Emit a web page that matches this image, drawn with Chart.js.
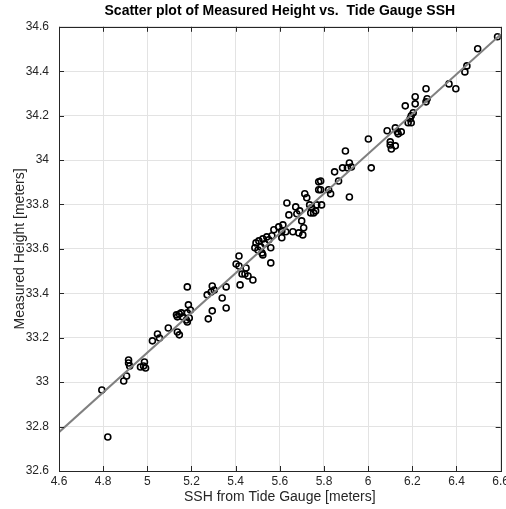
<!DOCTYPE html>
<html>
<head>
<meta charset="utf-8">
<script src="https://cdn.jsdelivr.net/npm/chart.js@4/dist/chart.umd.min.js"></script>
<style>
  html, body { margin: 0; padding: 0; background: #fff; overflow: hidden; }
  #wrap { width: 512px; height: 509px; }
</style>
</head>
<body>
<div id="wrap"><canvas id="scatterChart"></canvas></div>
<script>
'use strict';

// tide gauge SSH (x) and measured height (y)
var sshX = [
    4.794, 4.821, 4.893, 4.906, 4.915, 4.915, 4.920, 4.969, 4.983, 4.987,
    4.992, 5.023, 5.046, 5.055, 5.095, 5.136, 5.145, 5.136, 5.145, 5.159,
    5.181, 5.186, 5.195, 5.181, 5.181, 5.132, 5.190, 5.177, 5.276, 5.294,
    5.271, 5.289, 5.294, 5.303, 5.339, 5.357, 5.357, 5.420, 5.402, 5.415,
    5.415, 5.429, 5.442, 5.447, 5.456, 5.478, 5.492, 5.514, 5.523, 5.505,
    5.523, 5.541, 5.550, 5.564, 5.559, 5.573, 5.595, 5.614, 5.609, 5.627,
    5.659, 5.686, 5.704, 5.708, 5.699, 5.632, 5.641, 5.672, 5.677, 5.690,
    5.713, 5.722, 5.735, 5.744, 5.740, 5.753, 5.762, 5.767, 5.789, 5.776,
    5.776, 5.830, 5.821, 6.001, 6.014, 5.897, 5.915, 5.884, 5.906, 5.924,
    5.848, 5.866, 5.915, 6.086, 6.123, 6.132, 6.100, 6.105, 6.123, 6.100,
    6.150, 6.136, 6.168, 6.190, 6.195, 6.181, 6.204, 6.195, 6.213, 6.213,
    6.262, 6.267, 6.262, 6.366, 6.397, 6.438, 6.447, 6.496, 6.586, 5.785,
    5.785, 5.501, 5.519, 5.154, 5.487, 5.532, 5.559, 5.609
];
var heightY = [
    32.965, 32.753, 33.005, 33.028, 33.100, 33.086, 33.073, 33.068, 33.073, 33.091,
    33.064, 33.186, 33.217, 33.199, 33.244, 33.294, 33.307, 33.226, 33.213, 33.294,
    33.271, 33.348, 33.325, 33.312, 33.429, 33.303, 33.289, 33.280, 33.285, 33.321,
    33.393, 33.406, 33.433, 33.415, 33.379, 33.334, 33.429, 33.438, 33.532, 33.568,
    33.523, 33.487, 33.487, 33.514, 33.478, 33.460, 33.627, 33.609, 33.573, 33.636,
    33.645, 33.654, 33.641, 33.659, 33.605, 33.686, 33.699, 33.708, 33.681, 33.677,
    33.677, 33.672, 33.663, 33.695, 33.726, 33.807, 33.753, 33.789, 33.758, 33.771,
    33.848, 33.830, 33.798, 33.785, 33.762, 33.762, 33.771, 33.798, 33.798, 33.866,
    33.902, 33.848, 33.866, 34.095, 33.965, 34.041, 33.987, 33.965, 33.965, 33.969,
    33.947, 33.906, 33.834, 34.132, 34.145, 34.127, 34.068, 34.050, 34.064, 34.082,
    34.127, 34.118, 34.244, 34.186, 34.168, 34.168, 34.213, 34.199, 34.285, 34.253,
    34.321, 34.276, 34.262, 34.343, 34.321, 34.397, 34.424, 34.501, 34.555, 33.906,
    33.866, 33.595, 33.582, 33.312, 33.605, 33.623, 33.537, 33.650
];

// fitted line, two ends
var fitX = [4.6, 6.6];
var fitY = [32.775, 34.565];

var xTicks = [4.6, 4.8, 5, 5.2, 5.4, 5.6, 5.8, 6, 6.2, 6.4, 6.6];
var xTickLabels = ['4.6', '4.8', '5', '5.2', '5.4', '5.6', '5.8', '6', '6.2', '6.4', '6.6'];
var yTicks = [32.6, 32.8, 33, 33.2, 33.4, 33.6, 33.8, 34, 34.2, 34.4, 34.6];
var yTickLabels = ['32.6', '32.8', '33', '33.2', '33.4', '33.6', '33.8', '34', '34.2', '34.4', '34.6'];

var points = sshX.map(function(x, i) { return { x: x, y: heightY[i] }; });
var fitLine = fitX.map(function(x, i) { return { x: x, y: fitY[i] }; });

var axisColor = '#262626';

// box round the plot and inward tick marks, like the original figure
var boxPlugin = {
    id: 'boxPlugin',
    afterDraw: function(chart) {
        var ctx = chart.ctx;
        var a = chart.chartArea;
        var len = 5;
        ctx.save();
        ctx.strokeStyle = axisColor;
        ctx.lineWidth = 1;
        ctx.beginPath();
        chart.scales.x.ticks.forEach(function(t) {
            var px = Math.round(chart.scales.x.getPixelForValue(t.value)) + 0.5;
            ctx.moveTo(px, a.bottom);
            ctx.lineTo(px, a.bottom - len);
            ctx.moveTo(px, a.top);
            ctx.lineTo(px, a.top + len);
        });
        chart.scales.y.ticks.forEach(function(t) {
            var py = Math.round(chart.scales.y.getPixelForValue(t.value)) + 0.5;
            ctx.moveTo(a.left, py);
            ctx.lineTo(a.left + len, py);
            ctx.moveTo(a.right, py);
            ctx.lineTo(a.right - len, py);
        });
        ctx.stroke();
        ctx.strokeRect(Math.round(a.left) + 0.5, Math.round(a.top) + 0.5,
            Math.round(a.right - a.left), Math.round(a.bottom - a.top));
        ctx.restore();
    }
};

var ctx = document.getElementById('scatterChart').getContext('2d');
var chart = new Chart(ctx, {
    type: 'scatter',
    data: {
        datasets: [{
            type: 'line',
            label: 'fit',
            data: fitLine,
            borderColor: '#808080',
            borderWidth: 2,
            pointRadius: 0,
            fill: false
        }, {
            label: 'measurements',
            data: points,
            pointStyle: 'circle',
            pointRadius: 3,
            borderColor: '#000',
            borderWidth: 1.6,
            backgroundColor: 'rgba(255,255,255,0)'
        }]
    },
    options: {
        responsive: true,
        maintainAspectRatio: false,
        animation: false,
        events: [],
        layout: { padding: 0 },
        plugins: {
            legend: { display: false },
            tooltip: { enabled: false },
            title: {
                display: true,
                text: 'Scatter plot of Measured Height vs.  Tide Gauge SSH',
                fullSize: false,
                color: '#000',
                font: { family: 'Liberation Sans, Arial, sans-serif', size: 14, weight: 'bold' },
                padding: { top: 3, bottom: 7 }
            }
        },
        scales: {
            x: {
                type: 'linear',
                min: 4.6,
                max: 6.6,
                afterBuildTicks: function(scale) {
                    scale.ticks = xTicks.map(function(v) { return { value: v }; });
                },
                afterFit: function(scale) { scale.height = 38; },
                ticks: {
                    color: axisColor,
                    padding: 3,
                    maxRotation: 0,
                    font: { family: 'Liberation Sans, Arial, sans-serif', size: 12 },
                    callback: function(v, i) { return xTickLabels[i]; }
                },
                grid: { color: '#e3e3e3', drawTicks: false },
                border: { display: false },
                title: {
                    display: true,
                    text: 'SSH from Tide Gauge [meters]',
                    color: axisColor,
                    font: { family: 'Liberation Sans, Arial, sans-serif', size: 14 },
                    padding: { top: 0, bottom: 3.6 }
                }
            },
            y: {
                type: 'linear',
                min: 32.6,
                max: 34.6,
                afterBuildTicks: function(scale) {
                    scale.ticks = yTicks.map(function(v) { return { value: v }; });
                },
                afterFit: function(scale) { scale.width = 59; },
                ticks: {
                    color: axisColor,
                    padding: 10,
                    font: { family: 'Liberation Sans, Arial, sans-serif', size: 12 },
                    callback: function(v, i) { return yTickLabels[i]; }
                },
                grid: { color: '#e3e3e3', drawTicks: false },
                border: { display: false },
                title: {
                    display: true,
                    text: 'Measured Height [meters]',
                    color: axisColor,
                    font: { family: 'Liberation Sans, Arial, sans-serif', size: 14 },
                    padding: { top: 11.6, bottom: 0 }
                }
            }
        }
    },
    plugins: [boxPlugin]
});
</script>
</body>
</html>
